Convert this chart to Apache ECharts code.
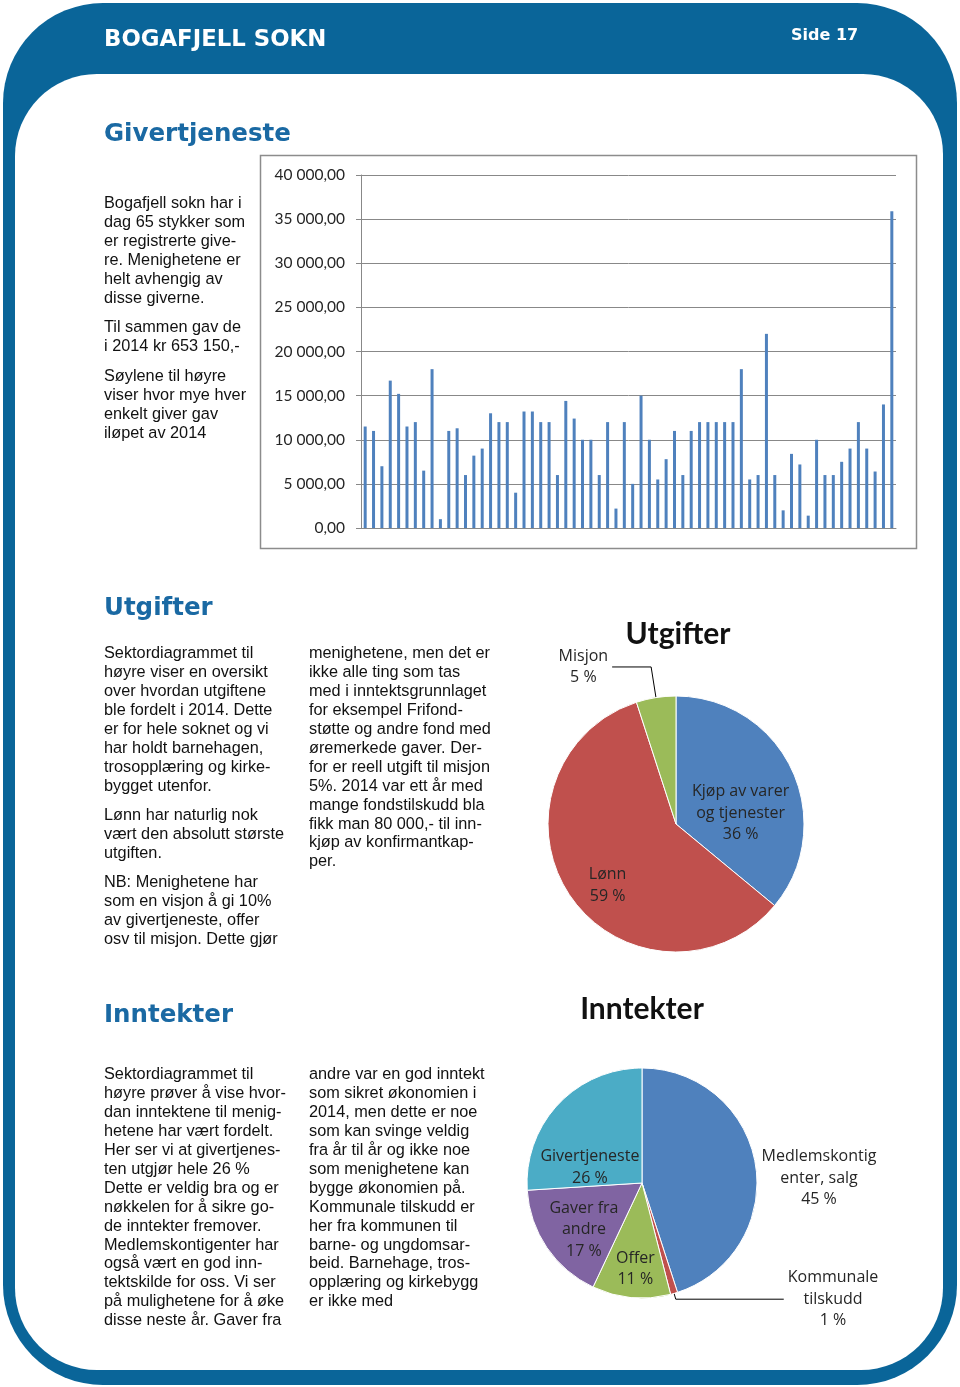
<!DOCTYPE html>
<html>
<head>
<meta charset="utf-8">
<script src="https://cdn.jsdelivr.net/npm/echarts@6/dist/echarts.min.js"></script>
<style>
html,body{margin:0;padding:0;background:#ffffff;}
#c{width:960px;height:1387px;}
</style>
</head>
<body>
<div id="c"></div>
<script>
// ---------- DATA ----------
const giverCategories = [1,2,3,4,5,6,7,8,9,10,11,12,13,14,15,16,17,18,19,20,21,22,23,24,25,26,27,28,29,30,31,32,33,34,35,36,37,38,39,40,41,42,43,44,45,46,47,48,49,50,51,52,53,54,55,56,57,58,59,60,61,62,63,64];
const giverValues = [11500,11000,7000,16700,15200,11500,12000,6500,18000,1000,
  11000,11300,6000,8200,9000,13000,12000,12000,4000,13200,
  13200,12000,12000,6000,14400,12400,10000,10000,6000,12000,
  2200,12000,5000,15000,10000,5500,7800,11000,6000,11000,
  12000,12000,12000,12000,12000,18000,5500,6000,22000,6000,
  2000,8400,7200,1400,10000,6000,6000,7500,9000,12000,
  9000,6400,14000,35900];
const yTickLabels = ['0,00','5 000,00','10 000,00','15 000,00','20 000,00','25 000,00','30 000,00','35 000,00','40 000,00'];

const utgiftNames = ['Kjøp av varer og tjenester','Lønn','Misjon'];
const utgiftValues = [36,59,5];
const utgiftLabelLines = [['Kjøp av varer','og tjenester'],['Lønn'],['Misjon']];

const inntektNames = ['Medlemskontigenter, salg','Kommunale tilskudd','Offer','Gaver fra andre','Givertjeneste'];
const inntektValues = [45,1,11,17,26];
const inntektLabelLines = [['Medlemskontig','enter, salg'],['Kommunale','tilskudd'],['Offer'],['Gaver fra','andre'],['Givertjeneste']];

// ---------- PAGE TEXT ----------
const txtGiver1 = ['Bogafjell sokn har i','dag 65 stykker som','er registrerte give-','re. Menighetene er','helt avhengig av','disse giverne.'];
const txtGiver2 = ['Til sammen gav de','i 2014 kr 653 150,-'];
const txtGiver3 = ['Søylene til høyre','viser hvor mye hver','enkelt giver gav','iløpet av 2014'];
const txtUtg1 = ['Sektordiagrammet til','høyre viser en oversikt','over hvordan utgiftene','ble fordelt i 2014. Dette','er for hele soknet og vi','har holdt barnehagen,','trosopplæring og kirke-','bygget utenfor.'];
const txtUtg2 = ['Lønn har naturlig nok','vært den absolutt største','utgiften.'];
const txtUtg3 = ['NB: Menighetene har','som en visjon å gi 10%','av givertjeneste, offer','osv til misjon. Dette gjør'];
const txtUtg4 = ['menighetene, men det er','ikke alle ting som tas','med i inntektsgrunnlaget','for eksempel Frifond-','støtte og andre fond med','øremerkede gaver. Der-','for er reell utgift til misjon','5%. 2014 var ett år med','mange fondstilskudd bla','fikk man 80 000,- til inn-','kjøp av konfirmantkap-','per.'];
const txtInn1 = ['Sektordiagrammet til','høyre prøver å vise hvor-','dan inntektene til menig-','hetene har vært fordelt.','Her ser vi at givertjenes-','ten utgjør hele 26 %','Dette er veldig bra og er','nøkkelen for å sikre go-','de inntekter fremover.','Medlemskontigenter har','også vært en god inn-','tektskilde for oss. Vi ser','på mulighetene for å øke','disse neste år. Gaver fra'];
const txtInn2 = ['andre var en god inntekt','som sikret økonomien i','2014, men dette er noe','som kan svinge veldig','fra år til år og ikke noe','som menighetene kan','bygge økonomien på.','Kommunale tilskudd er','her fra kommunen til','barne- og ungdomsar-','beid. Barnehage, tros-','opplæring og kirkebygg','er ikke med'];

// ---------- STYLE ----------
const FRAME_BLUE = '#0a6599';
const HEAD_BLUE = '#1a69a3';
const SLICE_BLUE = '#4f81bd', SLICE_RED = '#c0504d', SLICE_GREEN = '#9bbb59', SLICE_PURPLE = '#8064a2', SLICE_CYAN = '#4bacc6';
const utgiftColors = [SLICE_BLUE, SLICE_RED, SLICE_GREEN];
const inntektColors = [SLICE_BLUE, SLICE_RED, SLICE_GREEN, SLICE_PURPLE, SLICE_CYAN];
const BODY_FONT = '"Liberation Sans", Arial, sans-serif';
const HEAD_FONT = '"DejaVu Sans", Verdana, sans-serif';
const LABEL_FONT = '"Open Sans", "DejaVu Sans", sans-serif';
const GRID_GRAY = '#888888';

function para(lines, x, yCenterFirst){
  const lh = 18.9;
  return {type:'text', x:x, y:yCenterFirst + 2 - lh/2, z:20, silent:true,
    style:{text:lines.join('\n'), fill:'#111111', fontFamily:BODY_FONT, fontSize:16.3, lineHeight:lh, verticalAlign:'top', align:'left'}};
}
function heading(t, x, y){
  return {type:'text', x:x, y:y, z:20, silent:true,
    style:{text:t, fill:HEAD_BLUE, fontFamily:HEAD_FONT, fontWeight:'bold', fontSize:24.5, verticalAlign:'middle', align:'left'}};
}

const labelRich = {c:{align:'center', fontFamily:LABEL_FONT, fontSize:16, lineHeight:21.5, color:'#262626'}};
function makeFormatter(lineSets){
  return function(p){
    const lines = lineSets[p.dataIndex].concat([p.value + ' %']);
    return lines.map(function(l){return '{c|' + l + '}';}).join('\n');
  };
}
// label nudges (style tweaks relative to library label positions)
const utgNudge = [[4,15],[-13,21],null];
const innNudge = [[-4,11],null,[-1,23],[-8,10],[-8,23]];
function nudgeLayout(nudges){
  return function(p){
    const n = nudges[p.dataIndex];
    if(!n) return {};
    return {x:p.labelRect.x + n[0], y:p.labelRect.y + n[1], align:'left', verticalAlign:'top'};
  };
}

const chart = echarts.init(document.getElementById('c'), null, {renderer:'canvas', width:960, height:1387});

const option = {
  animation:false,
  backgroundColor:'#ffffff',
  title:[
    {text:'Utgifter', left:673, top:629, textAlign:'center', textVerticalAlign:'middle',
     textStyle:{fontFamily:'Lato, "Open Sans", sans-serif', fontWeight:'bold', fontSize:30, color:'#111111'}},
    {text:'Inntekter', left:637, top:1004, textAlign:'center', textVerticalAlign:'middle',
     textStyle:{fontFamily:'Lato, "Open Sans", sans-serif', fontWeight:'bold', fontSize:30, color:'#111111'}}
  ],
  graphic:[
    {type:'rect', z:-20, silent:true, shape:{x:3,y:3,width:954,height:1382,r:100}, style:{fill:FRAME_BLUE}},
    {type:'rect', z:-19, silent:true, shape:{x:15,y:74,width:928,height:1296,r:[82,80,82,82]}, style:{fill:'#ffffff'}},
    {type:'rect', z:-18, silent:true, shape:{x:260.5,y:155.5,width:656,height:393}, style:{fill:'#ffffff', stroke:'#8c8c8c', lineWidth:1.5}},
    {type:'text', x:104, y:40, z:20, silent:true, style:{text:'BOGAFJELL SOKN', fill:'#ffffff', fontFamily:HEAD_FONT, fontWeight:'bold', fontSize:22.8, verticalAlign:'middle'}},
    {type:'text', x:791, y:36, z:20, silent:true, style:{text:'Side 17', fill:'#ffffff', fontFamily:HEAD_FONT, fontWeight:'bold', fontSize:16, verticalAlign:'middle'}},
    heading('Givertjeneste', 104, 135),
    heading('Utgifter', 104, 609),
    heading('Inntekter', 104, 1016),
    para(txtGiver1, 104, 202),
    para(txtGiver2, 104, 326),
    para(txtGiver3, 104, 375),
    para(txtUtg1, 104, 652),
    para(txtUtg2, 104, 814),
    para(txtUtg3, 104, 881),
    para(txtUtg4, 309, 652),
    para(txtInn1, 104, 1073),
    para(txtInn2, 309, 1073)
  ],
  grid:{left:361, top:175, width:535, height:353, containLabel:false},
  xAxis:{
    type:'category', data:giverCategories, boundaryGap:true,
    axisLine:{show:true, lineStyle:{color:GRID_GRAY, width:1}},
    axisTick:{show:false}, axisLabel:{show:false}, splitLine:{show:false}
  },
  yAxis:{
    type:'value', min:0, max:40000, interval:5000,
    axisLine:{show:true, lineStyle:{color:GRID_GRAY, width:1}},
    axisTick:{show:true, inside:false, length:5, lineStyle:{color:GRID_GRAY}},
    splitLine:{show:true, lineStyle:{color:GRID_GRAY, width:1, type:'solid'}},
    axisLabel:{margin:16, color:'#262626', fontFamily:'Lato, "Open Sans", sans-serif', fontSize:15.5,
      formatter:function(v){ return yTickLabels[Math.round(v/5000)]; }}
  },
  series:[
    {type:'bar', data:giverValues, barWidth:3, itemStyle:{color:SLICE_BLUE}, silent:true},
    {type:'pie', center:[676,824], radius:128, startAngle:90, clockwise:true, silent:true,
     avoidLabelOverlap:false,
     itemStyle:{borderColor:'#ffffff', borderWidth:1},
     label:{show:true, formatter:makeFormatter(utgiftLabelLines), rich:labelRich, distanceToLabelLine:4},
     labelLine:{show:true, lineStyle:{color:'#000000', width:1}},
     labelLayout:nudgeLayout(utgNudge),
     data:utgiftNames.map(function(n,i){
       const out = (i===2);
       return {name:n, value:utgiftValues[i], itemStyle:{color:utgiftColors[i]},
         label:{position: out ? 'outside' : 'inside'},
         labelLine: out ? {show:true, length:31, length2:39} : {show:false}};
     })
    },
    {type:'pie', center:[642,1183], radius:115, startAngle:90, clockwise:true, silent:true,
     avoidLabelOverlap:false,
     itemStyle:{borderColor:'#ffffff', borderWidth:1},
     label:{show:true, formatter:makeFormatter(inntektLabelLines), rich:labelRich, distanceToLabelLine:4},
     labelLine:{show:true, lineStyle:{color:'#000000', width:1}},
     labelLayout:nudgeLayout(innNudge),
     data:inntektNames.map(function(n,i){
       let pos = 'inside', ll = {show:false};
       if(i===0){ pos = 'outside'; ll = {show:false, length:3, length2:3}; }
       if(i===1){ pos = 'outside'; ll = {show:true, length:6, length2:108}; }
       return {name:n, value:inntektValues[i], itemStyle:{color:inntektColors[i]},
         label:{position:pos}, labelLine:ll};
     })
    }
  ]
};
chart.setOption(option);
</script>
</body>
</html>
